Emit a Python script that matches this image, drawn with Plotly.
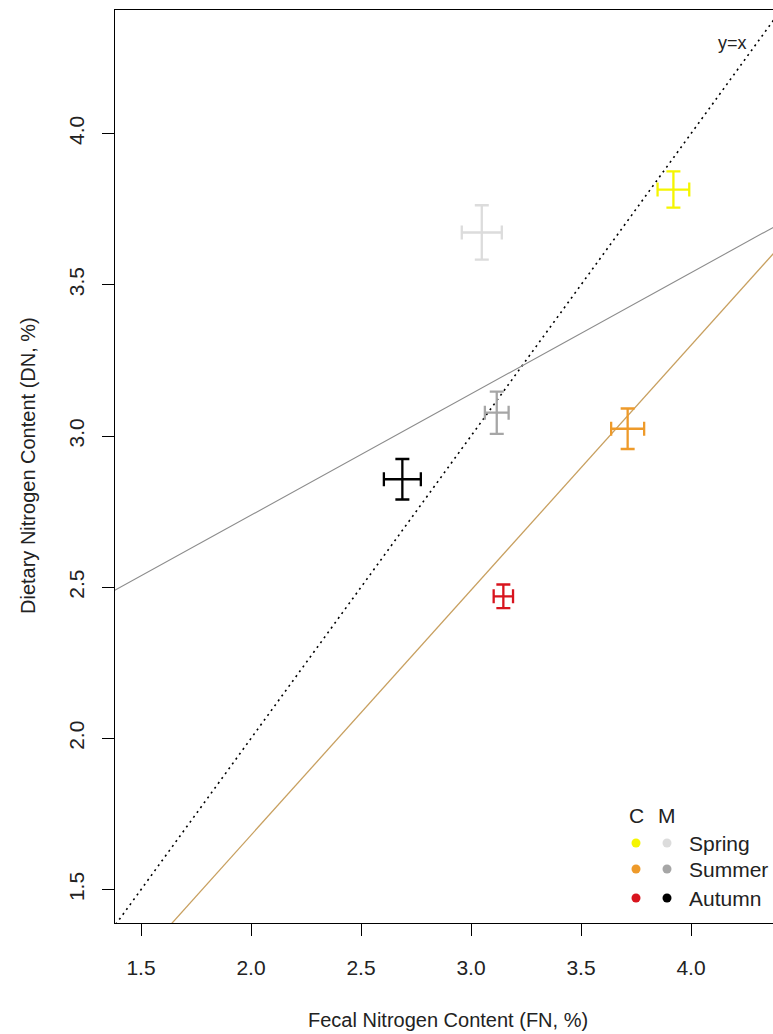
import plotly.graph_objects as go

# seasonal means (FN on x, DN on y) with standard errors, C and M groups
seasons = ["Spring", "Summer", "Autumn"]

c_fn = [3.92, 3.712, 3.147]
c_fn_se = [0.072, 0.075, 0.044]
c_dn = [3.815, 3.024, 2.470]
c_dn_se = [0.060, 0.067, 0.039]

m_fn = [3.049, 3.117, 2.688]
m_fn_se = [0.091, 0.054, 0.084]
m_dn = [3.673, 3.077, 2.857]
m_dn_se = [0.090, 0.070, 0.067]

c_colors = ["#F5F500", "#EE9A2A", "#D8141E"]
m_colors = ["#DCDCDC", "#A6A6A6", "#000000"]

# fitted lines: intercept, slope
m_fit = (1.936, 0.401)
c_fit = (0.060, 0.810)

x_ticks = [1.5, 2.0, 2.5, 3.0, 3.5, 4.0]
y_ticks = [1.5, 2.0, 2.5, 3.0, 3.5, 4.0]

W, H = 773, 1034
L, R, T, B = 115, 0, 10, 111
pw, ph = W - L - R, H - T - B


def px(x):
    return (x - L) / pw


def py(y):
    return (H - B - y) / ph


fig = go.Figure()

# y = x reference
line_x = [1.0, 5.0]
fig.add_trace(go.Scatter(x=line_x, y=line_x, mode="lines",
                         line=dict(color="black", width=1.6, dash="2px,4px"),
                         showlegend=False, hoverinfo="skip"))
fig.add_trace(go.Scatter(x=line_x, y=[m_fit[0] + m_fit[1] * v for v in line_x], mode="lines",
                         line=dict(color="#8C8C8C", width=1.1), showlegend=False, hoverinfo="skip"))
fig.add_trace(go.Scatter(x=line_x, y=[c_fit[0] + c_fit[1] * v for v in line_x], mode="lines",
                         line=dict(color="#C8A060", width=1.3), showlegend=False, hoverinfo="skip"))

for fn, fse, dn, dse, cols in [(c_fn, c_fn_se, c_dn, c_dn_se, c_colors),
                               (m_fn, m_fn_se, m_dn, m_dn_se, m_colors)]:
    for i in range(len(seasons)):
        fig.add_trace(go.Scatter(
            x=[fn[i]], y=[dn[i]], mode="markers",
            marker=dict(size=2, color=cols[i]),
            error_x=dict(type="data", array=[fse[i]], color=cols[i], thickness=2.3, width=7),
            error_y=dict(type="data", array=[dse[i]], color=cols[i], thickness=2.3, width=7),
            name=seasons[i], showlegend=False))

fig.add_annotation(x=4.19, y=4.30, text="y=x", showarrow=False,
                   font=dict(family="Liberation Sans, Arial, sans-serif", size=18, color="#222222"))

# legend drawn by hand: two dot columns (C, M)
fnt = dict(family="Liberation Sans, Arial, sans-serif", size=20, color="#222222")
tick_fnt = dict(fnt, size=21)


def label(x, y, text, size=20, **kw):
    opts = dict(xanchor="center", yanchor="middle")
    opts.update(kw)
    fig.add_annotation(xref="paper", yref="paper", x=px(x), y=py(y), text=text,
                       showarrow=False, font=dict(fnt, size=size), **opts)


label(636, 815, "C", 21)
label(667, 815, "M", 21)
r = 4.5
for i, yy in enumerate([843, 869, 898]):
    for cx, col in [(636, c_colors[i]), (667, m_colors[i])]:
        fig.add_shape(type="circle", xref="paper", yref="paper",
                      x0=px(cx - r), x1=px(cx + r), y0=py(yy + r), y1=py(yy - r),
                      fillcolor=col, line=dict(width=0))
    label(687, yy, seasons[i], 21, xanchor="left")

# axis titles
label(448, 1020, "Fecal Nitrogen Content (FN, %)")
label(28, 466, "Dietary Nitrogen Content (DN, %)", textangle=-90)

fig.update_xaxes(range=[1.3818, 4.3727], tickvals=x_ticks, tickformat=".1f",
                 showline=True, mirror=True, linecolor="black", linewidth=1.3,
                 ticks="outside", ticklen=12, tickcolor="black", tickwidth=1.2,
                 showgrid=False, zeroline=False, ticklabelstandoff=14,
                 tickfont=tick_fnt)
fig.update_yaxes(range=[1.3896, 4.4087], tickvals=y_ticks, tickformat=".1f",
                 showline=True, linecolor="black", linewidth=1.3,
                 ticks="outside", ticklen=12, tickcolor="black", tickwidth=1.2,
                 showgrid=False, zeroline=False, tickangle=-90, ticklabelstandoff=9,
                 tickfont=tick_fnt)

fig.update_layout(width=W, height=H, margin=dict(l=L, r=R, t=T, b=B),
                  plot_bgcolor="white", paper_bgcolor="white",
                  font=fnt, showlegend=False)

# drop the page's default body margin so the figure sits at the window corner
fig.write_html("out.html", config={"displayModeBar": False},
               post_script="document.body.style.margin='0';")
